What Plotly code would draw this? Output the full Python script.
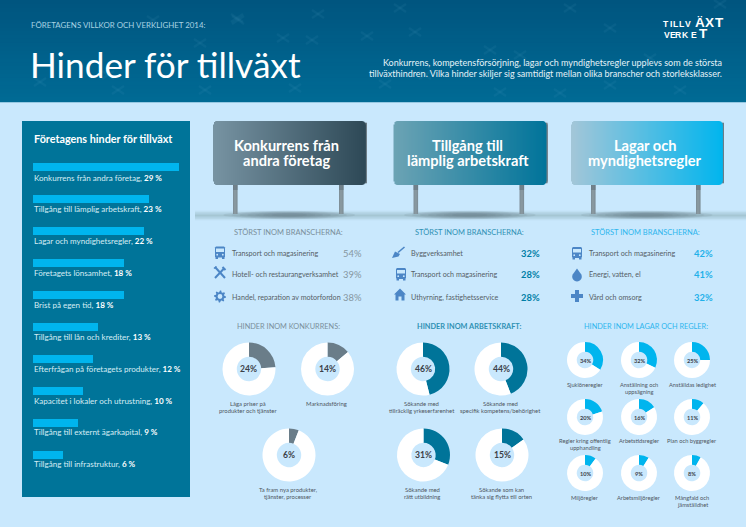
import math
import plotly.graph_objects as go

W, H = 746, 527
BG = "#c9e8fd"

bar_labels = ["Konkurrens från andra företag", "Tillgång till lämplig arbetskraft",
              "Lagar och myndighetsregler", "Företagets lönsamhet", "Brist på egen tid",
              "Tillgång till lån och krediter", "Efterfrågan på företagets produkter",
              "Kapacitet i lokaler och utrustning", "Tillgång till externt ägarkapital",
              "Tillgång till infrastruktur"]
bar_values = [29, 23, 22, 18, 18, 13, 12, 10, 9, 6]

sign_titles = ["Konkurrens från<br>andra företag", "Tillgång till<br>lämplig arbetskraft",
               "Lagar och<br>myndighetsregler"]
branch_names = [["Transport och magasinering", "Hotell- och restaurangverksamhet", "Handel, reparation av motorfordon"],
                ["Byggverksamhet", "Transport och magasinering", "Uthyrning, fastighetsservice"],
                ["Transport och magasinering", "Energi, vatten, el", "Vård och omsorg"]]
branch_values = [[54, 39, 38], [32, 28, 28], [42, 41, 32]]

konk_labels = ["Låga priser på<br>produkter och tjänster", "Marknadsföring",
               "Ta fram nya produkter,<br>tjänster, processer"]
konk_values = [24, 14, 6]
arb_labels = ["Sökande med<br>tillräcklig yrkeserfarenhet", "Sökande med<br>specifik kompetens/behörighet",
              "Sökande med<br>rätt utbildning", "Sökande som kan<br>tänka sig flytta till orten"]
arb_values = [46, 44, 31, 15]
lag_labels = ["Sjuklöneregler", "Anställning och<br>uppsägning", "Anställdas ledighet",
              "Regler kring offentlig<br>upphandling", "Arbetstidsregler", "Plan och byggregler",
              "Miljöregler", "Arbetsmiljöregler", "Mångfald och<br>jämställdhet"]
lag_values = [34, 32, 25, 20, 16, 11, 10, 9, 8]

FONT = "Lato"


def X(x):
    return x / W


def Y(y):
    return 1 - y / H


shapes = []
annots = []


def rect(x0, y0, x1, y1, color, opacity=1.0):
    shapes.append(dict(type="rect", xref="paper", yref="paper", x0=X(x0), x1=X(x1), y0=Y(y1), y1=Y(y0),
                       fillcolor=color, opacity=opacity, line_width=0, layer="below"))


def poly(pts, color, opacity=1.0, close=True):
    d = "M" + " L".join(f"{X(a):.5f},{Y(b):.5f}" for a, b in pts) + (" Z" if close else "")
    shapes.append(dict(type="path", xref="paper", yref="paper", path=d, fillcolor=color,
                       opacity=opacity, line_width=0, layer="below"))


def line(x0, y0, x1, y1, color, width, opacity=1.0):
    shapes.append(dict(type="line", xref="paper", yref="paper", x0=X(x0), x1=X(x1), y0=Y(y0), y1=Y(y1),
                       line=dict(color=color, width=width), opacity=opacity, layer="below"))


def circle(cx, cy, r, color, opacity=1.0):
    shapes.append(dict(type="circle", xref="paper", yref="paper", x0=X(cx - r), x1=X(cx + r), y0=Y(cy + r), y1=Y(cy - r),
                       fillcolor=color, opacity=opacity, line_width=0, layer="below"))


def text(x, y, s, size, color, anchor="center", bold=False, family=FONT, pitch=7.0):
    """One annotation per line so the line pitch can match the picture; y is the block's centre."""
    parts = s.split("<br>")
    start = y - pitch * (len(parts) - 1) / 2
    for i, p in enumerate(parts):
        annots.append(dict(xref="paper", yref="paper", x=X(x), y=Y(start + i * pitch), text=f"<b>{p}</b>" if bold else p,
                           showarrow=False, xanchor=anchor, yanchor="middle",
                           font=dict(size=size, color=color, family=family), borderpad=0))


def mix(a, b, t):
    ca = [int(a[i:i + 2], 16) for i in (1, 3, 5)]
    cb = [int(b[i:i + 2], 16) for i in (1, 3, 5)]
    return "#" + "".join(f"{round(p + (q - p) * t):02x}" for p, q in zip(ca, cb))


# ---------- page ----------
rect(0, 0, W, H, BG)
for i in range(26):
    t = i / 25
    rect(0, i * 101 / 26, W, (i + 1.3) * 101 / 26, mix("#00557f", "#006a94", t))
xmarks = [(237, 18), (400, 8), (570, 8), (153, 20), (238, 20), (318, 14), (312, 40), (200, 43), (283, 38),
          (415, 32), (490, 50), (520, 55), (367, 36), (245, 65), (108, 75), (40, 82), (205, 90), (118, 90),
          (295, 88), (385, 84), (425, 75), (500, 92), (560, 93), (610, 85), (680, 90), (650, 58), (720, 4), (610, 28)]
for (mx, my) in xmarks:
    line(mx - 6, my - 4, mx + 6, my + 4, "#6fb8d8", 2.5, 0.07)
    line(mx - 6, my + 4, mx + 6, my - 4, "#6fb8d8", 2.5, 0.07)

text(30, 25.5, "FÖRETAGENS VILLKOR OCH VERKLIGHET 2014:", 7.9, "#a9d3e3", "left")
text(29, 64, "Hinder för tillväxt", 35.2, "#ffffff", "left")
text(723, 62.5, "Konkurrens, kompetensförsörjning, lagar och myndighetsregler upplevs som de största", 9, "#e4f2f8", "right")
text(723, 73.5, "tillväxthindren. Vilka hinder skiljer sig samtidigt mellan olika branscher och storleksklasser.", 9, "#e4f2f8", "right")
LOGO = "Liberation Sans"
for ch, lx in zip("TILLV", [666, 670.8, 675.4, 681, 688.4]):
    text(lx, 24, ch, 8.6, "#ffffff", "center", True, LOGO)
for ch, lx in zip("ÄXT", [700, 709.8, 719]):
    text(lx, 22, ch, 13.5, "#ffffff", "center", True, LOGO)
for ch, lx in zip("VERK", [666.5, 672.5, 678.5, 685]):
    text(lx, 35, ch, 8.6, "#ffffff", "center", True, LOGO)
text(693.5, 35, "E", 8.6, "#ffffff", "center", True, LOGO)
text(703, 34, "T", 13.5, "#ffffff", "center", True, LOGO)

# ---------- left panel ----------
rect(22, 121, 190, 497, "#007499")
text(33, 139, "Företagens hinder för tillväxt", 10.8, "#ffffff", "left", True)
row_y = [178.5, 209.5, 241, 273, 305, 337, 369, 401, 432, 464]
for lab, val, yy in zip(bar_labels, bar_values, row_y):
    text(33, yy, f'<span style="color:#d5ecf4">{lab},</span> <b>{val} %</b>', 8.05, "#ffffff", "left")

# ---------- signs ----------
signs = [(213, 365.5, "#7793a2", "#2d4856", "#6e7d86"),
         (393.5, 546, "#6ca3b4", "#00749a", "#6e7d86"),
         (571, 722.5, "#a3c6d8", "#00b5ee", "#6e7d86")]
head_cols = ["#7a8f9b", "#2f91b4", "#2eb6ee"]
num_cols = ["#85969f", "#007ea6", "#1fb1ea"]
top, bot, rad = 121, 185, 3.5
for k in range(9):
    rect(195, 210.5 + k * 0.7, W, 220.5 - k * 0.7, "#6f8a9a", 0.055)
for (x0, x1, c0, c1, edge) in signs:
    n = int(x1 - x0) + 2
    cx = (x0 + x1) / 2
    for k in range(7):
        rx, ry = 66 - k * 8, 4.2 - k * 0.45
        poly([(cx + rx * math.cos(i * math.pi / 14), 215 + ry * math.sin(i * math.pi / 14)) for i in range(28)],
             "#4c626f", 0.10)
    for i in range(4):
        rect(x1 - 2 + i * 0.6, top + rad - (2 - i) * 0.9, x1 + 1.5, bot - rad + (2 - i) * 0.9, edge)
    for i in range(n):
        xx = x0 + i
        d = min(xx - x0, x1 - 1 - xx)
        inset = rad - math.sqrt(max(rad ** 2 - (rad - d) ** 2, 0)) if d < rad else 0
        rect(xx, top + inset, xx + 1.6 if xx + 1.6 < x1 else x1, bot - inset, mix(c0, c1, i / (n - 1)))
    for px in (x0 + 20, x1 - 26.5):
        rect(px, 185, px + 4.6, 214, "#7f8f98")
        rect(px + 1, 185, px + 3.4, 214, "#8c9ba3", 0.7)
        rect(px, 185, px + 4.6, 190, "#5f707a", 0.55)


ICON = "#4c86c6"


def bus(cx, cy):
    poly([(cx - 4, cy - 6), (cx + 4, cy - 6), (cx + 5, cy - 5), (cx + 5, cy + 4), (cx + 4, cy + 5),
          (cx - 4, cy + 5), (cx - 5, cy + 4), (cx - 5, cy - 5)], ICON)
    rect(cx - 4, cy - 4, cx + 4, cy - 0.5, "#c9e8fd")
    rect(cx - 4.5, cy + 4.5, cx - 2, cy + 6.5, ICON)
    rect(cx + 2, cy + 4.5, cx + 4.5, cy + 6.5, ICON)
    circle(cx - 2.8, cy + 2.2, 0.9, "#c9e8fd")
    circle(cx + 2.8, cy + 2.2, 0.9, "#c9e8fd")


def tools(cx, cy):
    line(cx - 5, cy + 5.5, cx + 4, cy - 4, ICON, 2)
    line(cx - 5, cy - 5.5, cx + 5, cy + 5.5, ICON, 2)
    line(cx + 2.5, cy - 5.5, cx + 5.5, cy - 2.5, ICON, 2)
    line(cx - 6, cy - 4, cx - 3.5, cy - 6, ICON, 1.6)


def gear(cx, cy):
    pts = []
    for i in range(32):
        a = i * 2 * math.pi / 32
        r = 6 if (i % 4) in (0, 1) else 4.4
        pts.append((cx + r * math.cos(a), cy + r * math.sin(a)))
    poly(pts, ICON)
    circle(cx, cy, 2.4, "#c9e8fd")


def trowel(cx, cy):
    poly([(cx - 7, cy + 5.5), (cx - 4, cy - 1), (cx + 1, cy + 1.5), (cx - 0.5, cy + 4)], ICON)
    line(cx - 1, cy, cx + 5.5, cy - 5.5, ICON, 1.6)


def house(cx, cy):
    poly([(cx, cy - 6.5), (cx + 6, cy - 0.5), (cx + 4.5, cy - 0.5), (cx + 4.5, cy + 5.5), (cx + 1.5, cy + 5.5),
          (cx + 1.5, cy + 1.5), (cx - 1.5, cy + 1.5), (cx - 1.5, cy + 5.5), (cx - 4.5, cy + 5.5),
          (cx - 4.5, cy - 0.5), (cx - 6, cy - 0.5)], ICON)


def drop(cx, cy):
    pts = [(cx, cy - 7)]
    for i in range(-2, 15):
        a = i * math.pi / 12
        pts.append((cx + 4.8 * math.cos(a), cy + 1.2 + 4.8 * math.sin(a)))
    poly(pts, ICON)


def plus(cx, cy):
    a, b = 2, 6
    poly([(cx - a, cy - b), (cx + a, cy - b), (cx + a, cy - a), (cx + b, cy - a), (cx + b, cy + a), (cx + a, cy + a),
          (cx + a, cy + b), (cx - a, cy + b), (cx - a, cy + a), (cx - b, cy + a), (cx - b, cy - a), (cx - a, cy - a)], ICON)


bus(220, 252.5); tools(220, 272.5); gear(220, 296.5)
trowel(399, 252.5); bus(401, 274); house(400, 295)
bus(577, 253); drop(577, 275.5); plus(577, 296)

head_x = [288.5, 469.5, 645]
title_x = [286.5, 467.5, 645]
name_x = [231, 410, 588]
val_x = [363, 541, 714]
row_ys = [253.5, 274.5, 297]
val_ys = [253, 274, 297]
for c in range(3):
    text(title_x[c], 152.5, sign_titles[c], 14.6, "#ffffff", "center", True, pitch=15)
    text(head_x[c], 232.5, "STÖRST INOM BRANSCHERNA:", 7.5, head_cols[c], "center")
    for r in range(3):
        text(name_x[c], row_ys[r], branch_names[c][r], 7.15, "#555e66", "left")
        text(val_x[c], val_ys[r], f"{branch_values[c][r]}%", 9.4, num_cols[c], "right", c > 0)

text(288, 326, "HINDER INOM KONKURRENS:", 7.35, "#7a8f9b", "center")
text(468.5, 326, "HINDER INOM ARBETSKRAFT:", 7.35, "#2f91b4", "center", True)
text(646, 326, "HINDER INOM LAGAR OCH REGLER:", 7.35, "#2eb6ee", "center")

# ---------- traces ----------
fig = go.Figure()
# bar axis domain: x 33..179 px, 10 rows at 32 px from y=151
fig.add_trace(go.Bar(x=bar_values, y=bar_labels, orientation="h", marker=dict(color="#00b5ee", line_width=0),
                     width=0.25, hoverinfo="skip", showlegend=False))


def donut(value, cx, cy, d, color):
    fig.add_trace(go.Pie(values=[value, 100 - value], sort=False, direction="clockwise", rotation=0, hole=0.46,
                         marker=dict(colors=[color, "#ffffff"], line_width=0), textinfo="none", hoverinfo="skip",
                         showlegend=False, domain=dict(x=[X(cx - d / 2), X(cx + d / 2)], y=[Y(cy + d / 2), Y(cy - d / 2)])))


konk_pos = [(249, 369), (327.5, 369), (289, 455)]
arb_pos = [(423, 369), (501, 369), (423.5, 455), (502, 455)]
lag_x = [585, 639, 692]
lag_y = [360, 417, 473]
lag_pos = [(x, y) for y in lag_y for x in lag_x]
konk_lab = [(248, 406.5), (326.5, 403), (288, 492.5)]
arb_lab = [(421.5, 406.5), (500.5, 406.5), (422, 492.5), (501, 492.5)]
lag_lab_y = [384, 387.5, 384, 444, 440, 440, 497, 497, 500.5]

for v, (cx, cy), lab, (lx, ly) in zip(konk_values, konk_pos, konk_labels, konk_lab):
    donut(v, cx, cy, 53, "#6a7d89")
    text(cx - 0.5, cy, f"{v}%", 8.6, "#3b4148", "center", True)
    text(lx, ly, lab, 5.9, "#4e565d", "center")
for v, (cx, cy), lab, (lx, ly) in zip(arb_values, arb_pos, arb_labels, arb_lab):
    donut(v, cx, cy, 53, "#007499")
    text(cx, cy, f"{v}%", 8.6, "#3b4148", "center", True)
    text(lx, ly, lab, 5.9, "#4e565d", "center")
for v, (cx, cy), lab, ly in zip(lag_values, lag_pos, lag_labels, lag_lab_y):
    donut(v, cx, cy, 36, "#00b5ee")
    text(cx, cy, f"{v}%", 5.6, "#3b4148", "center", True)
    text(cx, ly, lab, 5.7, "#4e565d", "center")

fig.update_layout(
    width=W, height=H, margin=dict(l=0, r=0, t=0, b=0), autosize=False,
    paper_bgcolor=BG, plot_bgcolor="rgba(0,0,0,0)", showlegend=False,
    shapes=shapes, annotations=annots, bargap=0,
    xaxis=dict(domain=[X(33), X(179)], range=[0, 29], visible=False, fixedrange=True),
    yaxis=dict(domain=[Y(471), Y(151)], categoryorder="array", categoryarray=bar_labels, autorange="reversed",
               visible=False, fixedrange=True),
)
fig.write_html("out.html", post_script="document.body.style.margin='0';document.body.style.overflow='hidden';",
               config=dict(displayModeBar=False))
